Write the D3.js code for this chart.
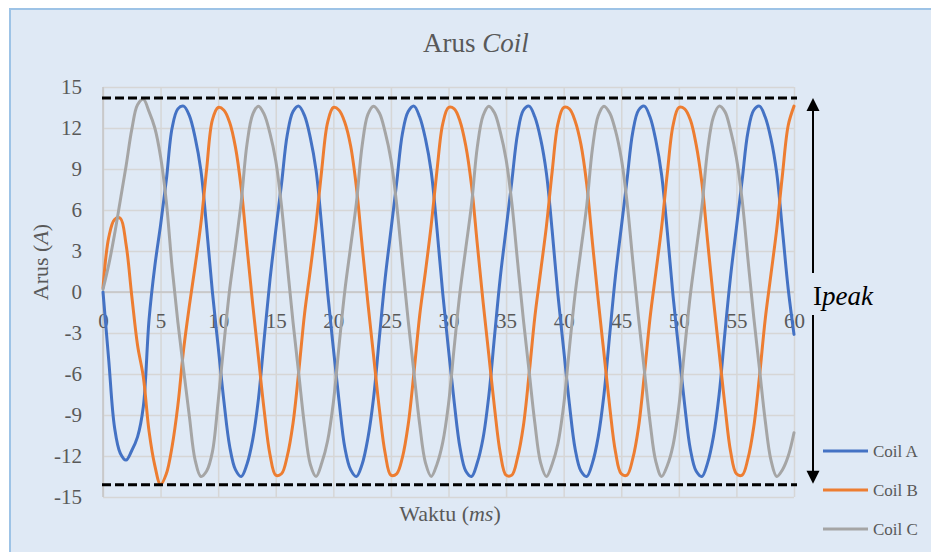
<!DOCTYPE html>
<html>
<head>
<meta charset="utf-8">
<script src="https://cdn.jsdelivr.net/npm/d3@7"></script>
<style>
  body { margin: 0; background: #fff; }
  svg { display: block; font-family: "Liberation Serif", "Times New Roman", serif; }
</style>
</head>
<body>
<script>
// time axis in ms, one sample every 0.5 ms
const timeMs = [0, 0.5, 1, 1.5, 2, 2.5, 3, 3.5, 4, 4.5, 5, 5.5, 6, 6.5, 7, 7.5, 8, 8.5, 9, 9.5,
  10, 10.5, 11, 11.5, 12, 12.5, 13, 13.5, 14, 14.5, 15, 15.5, 16, 16.5, 17, 17.5, 18, 18.5, 19, 19.5,
  20, 20.5, 21, 21.5, 22, 22.5, 23, 23.5, 24, 24.5, 25, 25.5, 26, 26.5, 27, 27.5, 28, 28.5, 29, 29.5,
  30, 30.5, 31, 31.5, 32, 32.5, 33, 33.5, 34, 34.5, 35, 35.5, 36, 36.5, 37, 37.5, 38, 38.5, 39, 39.5,
  40, 40.5, 41, 41.5, 42, 42.5, 43, 43.5, 44, 44.5, 45, 45.5, 46, 46.5, 47, 47.5, 48, 48.5, 49, 49.5,
  50, 50.5, 51, 51.5, 52, 52.5, 53, 53.5, 54, 54.5, 55, 55.5, 56, 56.5, 57, 57.5, 58, 58.5, 59, 59.5,
  60];

const coilA = [0.0, -5.0, -9.9, -11.8, -12.3, -11.6, -10.6, -8.4, -2.0, 1.9, 4.9, 8.2, 12.0, 13.4, 13.6, 12.9, 11.3, 8.9, 4.7, 0.0,
  -4.0, -8.0, -11.3, -13.0, -13.5, -12.6, -10.8, -7.8, -3.4, 0.9, 4.5, 7.9, 11.5, 13.2, 13.6, 12.9, 11.3, 8.9, 4.7, 0.0,
  -4.1, -8.0, -11.4, -13.0, -13.5, -12.6, -10.7, -7.7, -3.3, 1.0, 4.5, 8.0, 11.6, 13.2, 13.6, 12.8, 11.2, 8.8, 4.6, -0.1,
  -4.2, -8.1, -11.4, -13.1, -13.5, -12.5, -10.7, -7.6, -3.2, 1.1, 4.6, 8.1, 11.6, 13.3, 13.6, 12.8, 11.2, 8.7, 4.5, -0.2,
  -4.2, -8.2, -11.5, -13.1, -13.5, -12.5, -10.6, -7.5, -3.1, 1.2, 4.7, 8.2, 11.7, 13.3, 13.6, 12.8, 11.1, 8.6, 4.4, -0.3,
  -4.3, -8.2, -11.5, -13.1, -13.5, -12.5, -10.6, -7.5, -3.0, 1.2, 4.7, 8.2, 11.7, 13.3, 13.6, 12.8, 11.2, 8.7, 4.5, 0.2,
  -3.1];

const coilB = [0.3, 4.0, 5.3, 5.4, 3.5, -0.3, -3.9, -6.2, -10.2, -12.7, -14.1, -13.3, -11.3, -8.3, -4.2, -1.0, 1.9, 5.0, 9.0, 12.6,
  13.5, 13.3, 12.4, 10.6, 7.6, 3.3, -0.9, -4.8, -8.7, -11.9, -13.4, -13.3, -12.0, -9.6, -5.8, -1.6, 1.6, 5.0, 9.0, 12.4,
  13.5, 13.3, 12.4, 10.7, 7.7, 3.4, -0.8, -4.7, -8.6, -11.8, -13.4, -13.3, -12.1, -9.7, -5.9, -1.7, 1.5, 4.9, 8.9, 12.3,
  13.5, 13.4, 12.5, 10.7, 7.8, 3.5, -0.7, -4.6, -8.5, -11.8, -13.4, -13.4, -12.1, -9.8, -6.0, -1.8, 1.5, 4.8, 8.8, 12.3,
  13.5, 13.4, 12.5, 10.8, 7.9, 3.6, -0.6, -4.5, -8.4, -11.7, -13.3, -13.4, -12.2, -9.9, -6.1, -1.9, 1.4, 4.7, 8.7, 12.2,
  13.5, 13.4, 12.6, 10.8, 8.0, 3.7, -0.5, -4.4, -8.3, -11.7, -13.3, -13.4, -12.2, -9.9, -6.2, -2.0, 1.3, 4.6, 8.6, 12.2,
  13.6];

const coilC = [0.2, 2.0, 4.2, 6.7, 9.2, 11.9, 13.7, 14.1, 13.2, 12.0, 9.9, 6.6, 1.8, -2.2, -5.7, -9.1, -12.3, -13.5, -13.1, -11.7,
  -8.0, -3.8, 0.2, 3.3, 6.6, 10.8, 13.0, 13.6, 13.0, 11.6, 9.6, 6.3, 2.0, -2.2, -6.0, -9.8, -12.6, -13.5, -12.5, -10.9,
  -8.1, -3.9, 0.1, 3.3, 6.5, 10.7, 13.0, 13.6, 13.1, 11.7, 9.7, 6.4, 2.1, -2.1, -5.9, -9.7, -12.5, -13.5, -12.6, -11.0,
  -8.2, -4.0, 0.0, 3.2, 6.4, 10.6, 12.9, 13.6, 13.1, 11.7, 9.7, 6.5, 2.2, -2.0, -5.8, -9.6, -12.5, -13.5, -12.6, -11.1,
  -8.3, -4.1, -0.1, 3.1, 6.3, 10.5, 12.9, 13.6, 13.1, 11.8, 9.8, 6.6, 2.3, -1.9, -5.7, -9.5, -12.4, -13.5, -12.7, -11.2,
  -8.4, -4.2, -0.2, 3.0, 6.2, 10.4, 12.8, 13.6, 13.2, 11.8, 9.8, 6.7, 2.4, -1.8, -5.6, -9.4, -12.3, -13.5, -13.0, -12.0,
  -10.3];

const seriesNames = ["Coil A", "Coil B", "Coil C"];
const seriesColors = ["#4472c4", "#ed7d31", "#a5a5a5"];
const xTicks = [0, 5, 10, 15, 20, 25, 30, 35, 40, 45, 50, 55, 60];
const yTicks = [-15, -12, -9, -6, -3, 0, 3, 6, 9, 12, 15];
const peakLevels = [14.2, -14.1];   // dashed Ipeak lines

const width = 931, height = 552;
const margin = {left: 103, right: 137, top: 87, bottom: 55};
const labelColor = "#595959";

const svg = d3.select("body").append("svg")
  .attr("width", width)
  .attr("height", height);

// chart area
svg.append("rect")
  .attr("x", 10).attr("y", 9)
  .attr("width", width + 10).attr("height", height + 10)
  .attr("fill", "#dfe9f5")
  .attr("stroke", "#9dc3e6")
  .attr("stroke-width", 2);

const x = d3.scaleLinear().domain([0, 60]).range([margin.left, width - margin.right]);
const y = d3.scaleLinear().domain([-15, 15]).range([height - margin.bottom, margin.top]);

// grid
svg.append("g")
  .attr("transform", `translate(${x(0)},0)`)
  .call(d3.axisLeft(y).tickValues(yTicks).tickSize(-(x(60) - x(0))).tickFormat(""))
  .call(g => g.select(".domain").remove())
  .call(g => g.selectAll("line").attr("stroke", "#d6d6d6").attr("stroke-width", 1.5));

svg.append("g")
  .attr("transform", `translate(0,${y(-15)})`)
  .call(d3.axisBottom(x).tickValues(xTicks).tickSize(-(y(-15) - y(15))).tickFormat(""))
  .call(g => g.select(".domain").remove())
  .call(g => g.selectAll("line").attr("stroke", "#d6d6d6").attr("stroke-width", 1.5));

// axis lines
svg.append("line")
  .attr("x1", x(0)).attr("x2", x(60))
  .attr("y1", y(0)).attr("y2", y(0))
  .attr("stroke", "#c4c4c4").attr("stroke-width", 1.5);
svg.append("line")
  .attr("x1", x(0)).attr("x2", x(0))
  .attr("y1", y(15)).attr("y2", y(-15))
  .attr("stroke", "#c4c4c4").attr("stroke-width", 1.5);

// tick labels (plain hyphen minus, as in the original)
svg.append("g")
  .attr("transform", `translate(${x(0)},0)`)
  .call(d3.axisLeft(y).tickValues(yTicks).tickSize(0).tickPadding(21).tickFormat(d => String(d)))
  .call(g => g.select(".domain").remove())
  .call(g => g.selectAll("text")
    .attr("fill", labelColor)
    .style("font-family", "'Liberation Serif', 'Times New Roman', serif")
    .style("font-size", "21px"));

svg.append("g")
  .attr("transform", `translate(0,${y(0)})`)
  .call(d3.axisBottom(x).tickValues(xTicks).tickSize(0).tickPadding(21).tickFormat(d => String(d)))
  .call(g => g.select(".domain").remove())
  .call(g => g.selectAll("text")
    .attr("fill", labelColor)
    .style("font-family", "'Liberation Serif', 'Times New Roman', serif")
    .style("font-size", "21px"));

// series
const allSeries = [coilA, coilB, coilC];
const line = d3.line()
  .x((d, i) => x(timeMs[i]))
  .y(d => y(d))
  .curve(d3.curveCatmullRom.alpha(0.5));

svg.append("g")
  .selectAll("path")
  .data(allSeries)
  .join("path")
  .attr("d", d => line(d))
  .attr("fill", "none")
  .attr("stroke", (d, i) => seriesColors[i])
  .attr("stroke-width", 3)
  .attr("stroke-linejoin", "round")
  .attr("stroke-linecap", "round");

// dashed peak lines
svg.append("g")
  .selectAll("line")
  .data(peakLevels)
  .join("line")
  .attr("x1", x(0) - 1).attr("x2", x(60) + 3)
  .attr("y1", d => y(d)).attr("y2", d => y(d))
  .attr("stroke", "#000")
  .attr("stroke-width", 3)
  .attr("stroke-dasharray", "9,4");

// Ipeak arrows
const ax = x(60) + 19;
svg.append("line")
  .attr("x1", ax).attr("x2", ax)
  .attr("y1", y(peakLevels[0]) + 10).attr("y2", 273)
  .attr("stroke", "#000").attr("stroke-width", 2);
svg.append("line")
  .attr("x1", ax).attr("x2", ax)
  .attr("y1", 315).attr("y2", y(peakLevels[1]) - 10)
  .attr("stroke", "#000").attr("stroke-width", 2);
svg.append("path")
  .attr("d", `M${ax},${y(peakLevels[0])} L${ax - 6.5},${y(peakLevels[0]) + 13} L${ax + 6.5},${y(peakLevels[0]) + 13} Z`)
  .attr("fill", "#000");
svg.append("path")
  .attr("d", `M${ax},${y(peakLevels[1]) - 1} L${ax - 6.5},${y(peakLevels[1]) - 14} L${ax + 6.5},${y(peakLevels[1]) - 14} Z`)
  .attr("fill", "#000");

const ip = svg.append("text")
  .attr("x", ax).attr("y", 305)
  .attr("fill", "#000")
  .style("font-size", "27px");
ip.append("tspan").text("I");
ip.append("tspan").style("font-style", "italic").text("peak");

// title
const title = svg.append("text")
  .attr("x", 476).attr("y", 52)
  .attr("text-anchor", "middle")
  .attr("fill", labelColor)
  .style("font-size", "27px");
title.append("tspan").text("Arus ");
title.append("tspan").style("font-style", "italic").text("Coil");

// axis titles
const xt = svg.append("text")
  .attr("x", 450).attr("y", 521)
  .attr("text-anchor", "middle")
  .attr("fill", labelColor)
  .style("font-size", "22px");
xt.append("tspan").text("Waktu (");
xt.append("tspan").style("font-style", "italic").text("ms");
xt.append("tspan").text(")");

const yt = svg.append("text")
  .attr("transform", "translate(48,262) rotate(-90)")
  .attr("text-anchor", "middle")
  .attr("fill", labelColor)
  .style("font-size", "22px");
yt.append("tspan").text("Arus (");
yt.append("tspan").style("font-style", "italic").text("A");
yt.append("tspan").text(")");

// legend
const legend = svg.append("g")
  .selectAll("g")
  .data(seriesNames)
  .join("g")
  .attr("transform", (d, i) => `translate(823,${451 + i * 39})`);

legend.append("line")
  .attr("x1", 0).attr("x2", 45)
  .attr("stroke", (d, i) => seriesColors[i])
  .attr("stroke-width", 3);

legend.append("text")
  .attr("x", 50).attr("y", 6)
  .attr("fill", labelColor)
  .style("font-size", "17px")
  .text(d => d);
</script>
</body>
</html>
